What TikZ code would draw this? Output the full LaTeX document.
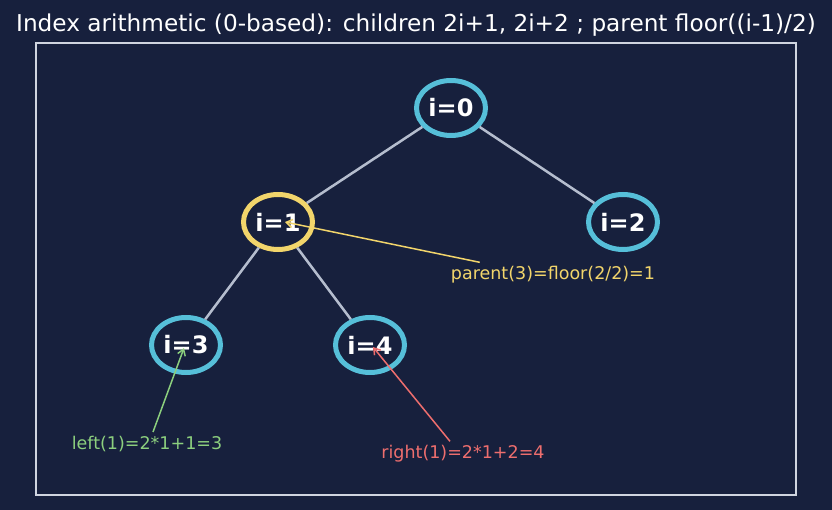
\documentclass[tikz,border=0pt]{standalone}
\usepackage{fontspec}
\setmainfont{DejaVu Sans}
\usetikzlibrary{arrows.meta,shapes.geometric,calc}

\definecolor{bgnavy}{HTML}{17203D}
\definecolor{framegrey}{HTML}{D0D5E0}
\definecolor{heapcyan}{HTML}{56BFD9}
\definecolor{heapyellow}{HTML}{F2D56B}
\definecolor{edgegrey}{HTML}{B5BDCE}
\definecolor{notegreen}{HTML}{8CCF7E}
\definecolor{notered}{HTML}{EE6E6E}

\tikzset{
  heapnode/.style={ellipse, draw=heapcyan, line width=5pt, minimum width=69pt,
    minimum height=55pt, inner sep=0pt, text=white,
    font=\fontsize{24}{24}\selectfont\bfseries},
  heapedge/.style={draw=edgegrey, line width=2.5pt},
  note/.style={font=\fontsize{17.5}{17.5}\selectfont, inner sep=1pt},
  notearrow/.style={line width=1.5pt, -{Straight Barb[length=6pt,width=8pt]}},
}

\begin{document}
\begin{tikzpicture}[x=1pt, y=-1pt]
    % background and frame
    \fill[bgnavy] (0,0) rectangle (832,510);
    \draw[framegrey, line width=1.5pt] (36,43) rectangle (796,495);
    \node[text=white, font=\fontsize{23.2}{23.2}\selectfont] (title) at (416,25)
        {Index arithmetic (0-based): children 2i+1, 2i+2 ; parent floor((i-1)/2)};

    % heap nodes
    \node[heapnode] (n0) at (451,108) {i=0};
    \node[heapnode, draw=heapyellow] (n1) at (278,222) {i=1};
    \node[heapnode] (n2) at (623,222) {i=2};
    \node[heapnode] (n3) at (186,345) {i=3};
    \node[heapnode] (n4) at (370,345) {i=4};

    % edges
    \draw[heapedge] (n0) -- (n1);
    \draw[heapedge] (n0) -- (n2);
    \draw[heapedge] (n1) -- (n3);
    \draw[heapedge] (n1) -- (n4);

    % index notes
    \node[note, text=heapyellow] (parentnote) at (553,275) {parent(3)=floor(2/2)=1};
    \node[note, text=notegreen] (leftnote) at (147,444) {left(1)=2*1+1=3};
    \node[note, text=notered] (rightnote) at (463,454) {right(1)=2*1+2=4};
    \coordinate (ptip) at (285,222);
    \coordinate (ltip) at (184,348);
    \coordinate (rtip) at (373,347);

    \draw[notearrow, heapyellow] ($(parentnote.north west)+(30,-3)$) -- (ptip);
    \draw[notearrow, notegreen] ($(leftnote.north)+(6,-3)$) -- (ltip);
    \draw[notearrow, notered] ($(rightnote.north)+(-13,-3)$) -- (rtip);
\end{tikzpicture}
\end{document}
